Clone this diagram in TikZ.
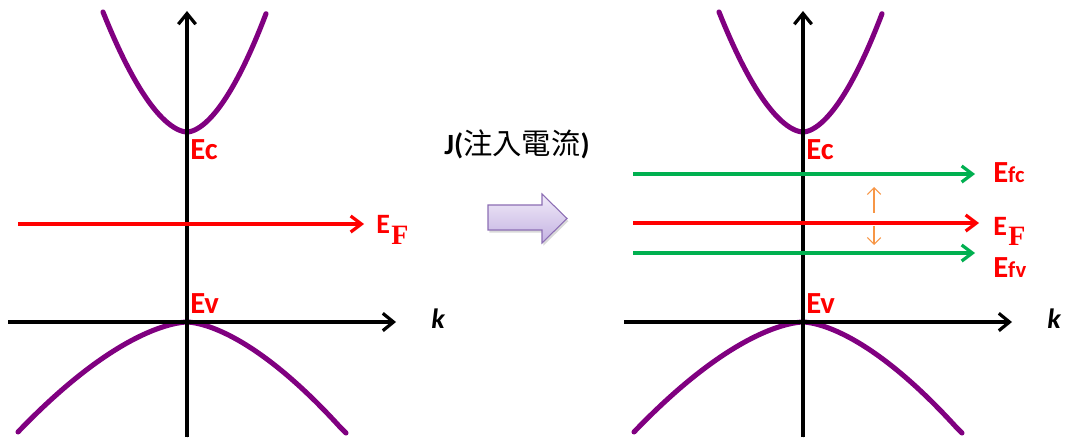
\documentclass[tikz,border=0pt]{standalone}
\usepackage{fontspec}
\setmainfont{Carlito}
\newfontfamily\cjk{Noto Sans CJK TC}
\newfontfamily\fserif{Liberation Serif}
\usetikzlibrary{arrows.meta}
\definecolor{band}{RGB}{128,0,128}
\definecolor{fermi}{RGB}{255,0,0}
\definecolor{quasi}{RGB}{0,176,80}
\definecolor{gapcol}{RGB}{247,150,70}
\definecolor{blocktop}{RGB}{240,234,248}
\definecolor{blockbottom}{RGB}{196,178,226}
\definecolor{blockedge}{RGB}{140,110,180}
\begin{document}
\begin{tikzpicture}[x=0.75pt,y=-0.75pt,
  drop/.style={preaction={draw=black!13, transform canvas={shift={(0.4pt,-1.1pt)}}}},
  axis/.style={drop, line width=2.4pt, black, -{Straight Barb[length=8pt,width=13pt]}},
  bandline/.style={line width=3.8pt, band, line cap=round},
  level/.style={drop, line width=2.4pt, -{Straight Barb[length=8pt,width=12pt]}},
  gaparrow/.style={line width=0.8pt, gapcol, -{Straight Barb[length=5pt,width=10pt]}},
  lbl/.style={text=fermi, inner sep=0pt, anchor=base west, font=\bfseries\fontsize{23}{23}\selectfont},
  kl/.style={inner sep=0pt, anchor=base west, font=\bfseries\itshape\fontsize{21}{21}\selectfont}]
\useasboundingbox (0,0) rectangle (1069,441);

% ---------- one panel: axes, bands and band-edge labels ----------
\foreach \ox/\p in {0/l,616/r}{
  \begin{scope}[shift={(\ox,0)}]
    % conduction band
    \draw[bandline] plot[domain=-84:79, samples=90, smooth]
      ({187+\x},{132-(\x<0 ? 0.0515 : 0.0565)*(abs(\x)+0.001)^1.75});
    % valence band
    \draw[bandline] plot[domain=-169:153, samples=90, smooth]
      ({187+\x},{322+(\x<0 ? 0.02997 : 0.03355)*(abs(\x)+0.001)^1.6})
      -- (346,433);
    % axes
    \coordinate (\p kb) at (187,437);
    \coordinate (\p kt) at (187,11);
    \coordinate (\p hl) at (8,322);
    \coordinate (\p hr) at (396,322);
    \draw[axis] (\p kb) -- (\p kt);
    \draw[axis] (\p hl) -- (\p hr);
    \node[kl] (\p k) at (431,328) {k};
    \node[lbl] (\p Ec) at (190,160) {Ec};
    \node[lbl] (\p Ev) at (190,313) {Ev};
  \end{scope}
}

% ---------- left panel: Fermi level ----------
\coordinate (lFa) at (18,224);
\coordinate (lFb) at (364,224);
\draw[level, fermi] (lFa) -- (lFb);
\node[lbl, font=\bfseries\fontsize{21}{21}\selectfont] (lEF) at (376,234)
  {E\hspace{1pt}\raisebox{-8pt}{\fserif\bfseries F}};

% ---------- injection current arrow ----------
\node[anchor=base, inner sep=0pt, font=\fontsize{22}{22}\selectfont] (title) at (517,155)
  {{\bfseries J(}{\cjk 注入電流}{\bfseries )}};
\path[preaction={fill=black!15, transform canvas={shift={(1pt,-2pt)}}},
      draw=blockedge, line width=0.8pt, top color=blocktop, bottom color=blockbottom]
  (488,205) -- (542,205) -- (542,194) -- (567,218.5) -- (542,243) -- (542,230)
  -- (488,230) -- cycle;

% ---------- right panel: quasi-Fermi levels ----------
\coordinate (rCa) at (633,174);
\coordinate (rCb) at (975,174);
\coordinate (rFa) at (633,223);
\coordinate (rFb) at (979,223);
\coordinate (rVa) at (633,253);
\coordinate (rVb) at (975,253);
\draw[level, quasi] (rCa) -- (rCb);
\draw[level, fermi] (rFa) -- (rFb);
\draw[level, quasi] (rVa) -- (rVb);

\node[lbl] (rEfc) at (993,183)
  {{\fontsize{23}{23}\selectfont E}{\fontsize{17}{17}\selectfont fc}};
\node[lbl, font=\bfseries\fontsize{21}{21}\selectfont] (rEF) at (993,236)
  {E\hspace{1pt}\raisebox{-7pt}{\fserif\bfseries F}};
\node[lbl] (rEfv) at (993,277)
  {{\fontsize{23}{23}\selectfont E}{\fontsize{17}{17}\selectfont fv}};

% splitting of the quasi-Fermi levels
\coordinate (gu0) at (874,213);
\coordinate (gu1) at (874,187);
\coordinate (gd0) at (874,226);
\coordinate (gd1) at (874,245);
\draw[gaparrow] (gu0) -- (gu1);
\draw[gaparrow] (gd0) -- (gd1);
\end{tikzpicture}
\end{document}
